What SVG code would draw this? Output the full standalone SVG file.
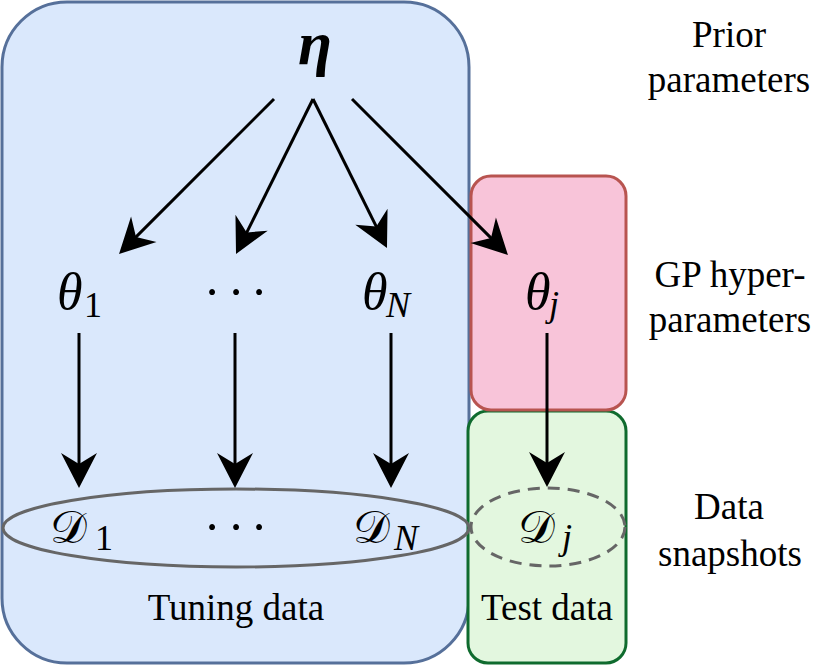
<svg xmlns="http://www.w3.org/2000/svg" width="814" height="666" viewBox="0 0 814 666">
<style>
.lbl{font-size:37px;fill:#000;text-anchor:middle}
.mi{font-style:italic}
.cal{font-size:46px;fill:#000}
.edge{stroke:#000;stroke-width:3;fill:none;marker-end:url(#ah)}
</style>
<defs>
<marker id="ah" markerUnits="userSpaceOnUse" markerWidth="40" markerHeight="40" viewBox="-14 -20 40 40" refX="0" refY="0" orient="auto" overflow="visible">
<path d="M22,0 L-13,-18 L-2,0 L-13,18 Z" fill="#000"/>
</marker>
</defs>
<g id="tuning-box"><rect x="2" y="2" width="467" height="661" rx="65" ry="65" fill="#dae8fc" stroke="#56709a" stroke-width="3"/></g>
<g id="test-box"><rect x="468" y="411" width="158" height="252" rx="20" ry="20" fill="#e3f7df" stroke="#0f6b2e" stroke-width="3"/></g>
<g id="gp-box"><rect x="471" y="176" width="155" height="234" rx="20" ry="20" fill="#f8c4d9" stroke="#b85450" stroke-width="3"/></g>
<g id="tuning-ellipse"><ellipse cx="236" cy="528" rx="233" ry="39" fill="none" stroke="#666" stroke-width="3"/></g>
<g id="test-ellipse"><ellipse cx="548" cy="527" rx="77" ry="39" fill="none" stroke="#666" stroke-width="3" stroke-dasharray="12 8"/></g>
<g id="connectors">
<line class="edge" x1="274" y1="99" x2="134.6" y2="238.4"/>
<line class="edge" x1="313" y1="99" x2="245.8" y2="234.3"/>
<line class="edge" x1="313" y1="99" x2="377.2" y2="228.3"/>
<line class="edge" x1="352" y1="99" x2="492.4" y2="239.4"/>
<line class="edge" x1="79" y1="333" x2="79" y2="466"/>
<line class="edge" x1="235" y1="333" x2="235" y2="466"/>
<line class="edge" x1="391" y1="333" x2="391" y2="466"/>
<line class="edge" x1="547" y1="333" x2="547" y2="465"/>
</g>
<g id="eta"><text font-family="'Liberation Serif', serif" class="mi" x="315" y="64" font-size="62" font-weight="bold" text-anchor="middle">η</text></g>
<g id="theta1"><text font-family="'Liberation Serif', serif" class="mi" x="57" y="309" font-size="52">θ</text><text font-family="'Liberation Serif', serif" x="84" y="317" font-size="36">1</text></g>
<g id="theta-dots"><text font-family="'Liberation Serif', serif" x="212 236 259" y="309" font-size="50" text-anchor="middle">···</text></g>
<g id="thetaN"><text font-family="'Liberation Serif', serif" class="mi" x="362" y="309" font-size="52">θ</text><text font-family="'Liberation Serif', serif" class="mi" x="386" y="317" font-size="36">N</text></g>
<g id="thetaj"><text font-family="'Liberation Serif', serif" class="mi" x="525" y="309" font-size="52">θ</text><text font-family="'Liberation Serif', serif" class="mi" x="549" y="316" font-size="36">j</text></g>
<g id="D1"><text font-family="'Liberation Serif', serif" class="cal" x="50" y="543">𝒟</text><text font-family="'Liberation Serif', serif" x="95" y="550" font-size="36">1</text></g>
<g id="D-dots"><text font-family="'Liberation Serif', serif" x="212 236 259" y="544" font-size="50" text-anchor="middle">···</text></g>
<g id="DN"><text font-family="'Liberation Serif', serif" class="cal" x="353" y="543">𝒟</text><text font-family="'Liberation Serif', serif" class="mi" x="394" y="550" font-size="36">N</text></g>
<g id="Dj"><text font-family="'Liberation Serif', serif" class="cal" x="518" y="543">𝒟</text><text font-family="'Liberation Serif', serif" class="mi" x="562" y="549" font-size="36">j</text></g>
<g id="tuning-label"><text font-family="'Liberation Serif', serif" class="lbl" x="236" y="620">Tuning data</text></g>
<g id="test-label"><text font-family="'Liberation Serif', serif" class="lbl" x="547" y="620">Test data</text></g>
<g id="prior-label">
<text font-family="'Liberation Serif', serif" class="lbl" x="729" y="47">Prior</text>
<text font-family="'Liberation Serif', serif" class="lbl" x="729" y="92">parameters</text>
</g>
<g id="gp-label">
<text font-family="'Liberation Serif', serif" class="lbl" x="730" y="287">GP hyper-</text>
<text font-family="'Liberation Serif', serif" class="lbl" x="730" y="332">parameters</text>
</g>
<g id="data-label">
<text font-family="'Liberation Serif', serif" class="lbl" x="729" y="519">Data</text>
<text font-family="'Liberation Serif', serif" class="lbl" x="730" y="566">snapshots</text>
</g>
</svg>
